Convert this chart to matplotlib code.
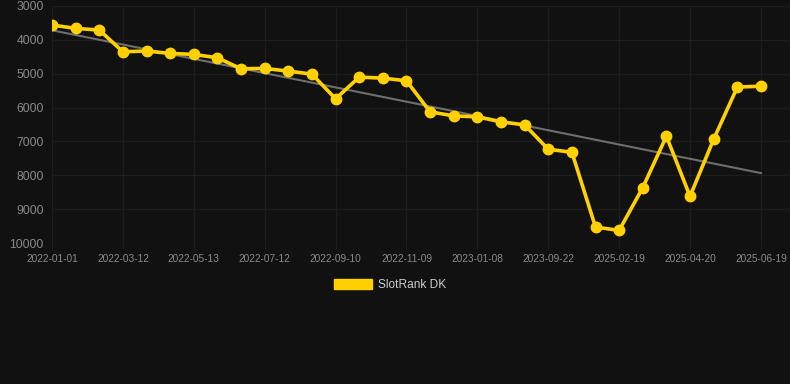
import numpy as np
import matplotlib
matplotlib.use('Agg')
import matplotlib.pyplot as plt
from matplotlib.patches import Patch

# rank values, one per sample point (y axis is inverted: lower rank is better)
ranks = [3562, 3661, 3710, 4351, 4331, 4400, 4430, 4529, 4854, 4844,
         4923, 5012, 5742, 5101, 5130, 5209, 6126, 6245, 6274, 6422,
         6511, 7231, 7320, 9529, 9628, 8365, 6846, 8621, 6935, 5397, 5367]
tickLabels = ['2022-01-01', '2022-03-12', '2022-05-13', '2022-07-12',
              '2022-09-10', '2022-11-09', '2023-01-08', '2023-09-22',
              '2025-02-19', '2025-04-20', '2025-06-19']
yTicks = [3000, 4000, 5000, 6000, 7000, 8000, 9000, 10000]
seriesName = 'SlotRank DK'

plt.rcParams['font.family'] = ['Liberation Sans', 'DejaVu Sans']

bg = '#111111'
gold = '#FFD100'

x = np.arange(len(ranks))
slope, icpt = np.polyfit(x, ranks, 1)

fig = plt.figure(figsize=(7.9, 3.84), dpi=100, facecolor=bg)
ax = fig.add_axes([52/790, 1-243/384, 1-52/790, 237/384])
ax.set_facecolor(bg)

ax.plot(x, slope*x + icpt, color='#6e6e6e', lw=1.5, zorder=2)
ax.plot(x, ranks, color=gold, lw=2.6, marker='o', ms=7.5, zorder=3)

ax.set_xlim(0, 31.23)
ax.set_ylim(10000, 3000)
ax.set_yticks(yTicks)
ax.set_xticks(x[::3])
ax.set_xticklabels(tickLabels)
ax.tick_params(axis='y', colors='#8a8a8a', labelsize=8.8, length=0, pad=6)
ax.tick_params(axis='x', colors='#8a8a8a', labelsize=7.3, length=4, pad=4, color='#1e1e1e')
ax.grid(True, color='#1d1d1d', lw=0.9)
for s in ax.spines.values():
    s.set_visible(False)

handle = Patch(facecolor=gold, edgecolor=gold)
fig.legend([handle], [seriesName], loc='center', bbox_to_anchor=(390/790, 1-285/384),
           frameon=False, labelcolor='#cccccc', fontsize=8.6,
           handlelength=3.2, handleheight=0.95, handletextpad=0.55)

fig.savefig('out.png', dpi=100, facecolor=bg)
